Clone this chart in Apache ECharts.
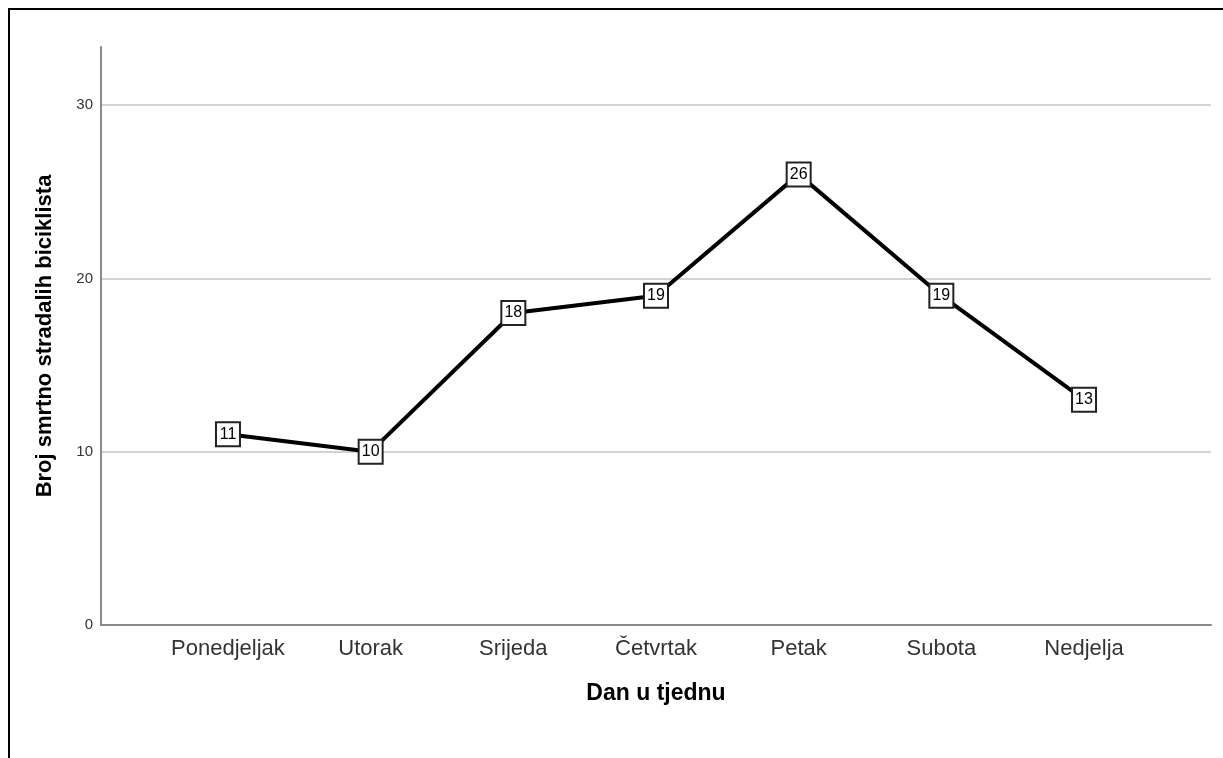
<!DOCTYPE html>
<html>
<head>
<meta charset="utf-8">
<script src="https://cdn.jsdelivr.net/npm/echarts@6/dist/echarts.min.js"></script>
<style>
html,body{margin:0;padding:0;background:#fff;}
#c{width:1223px;height:758px;}
</style>
</head>
<body>
<div id="c"></div>
<script>
const categories = ['Ponedjeljak','Utorak','Srijeda','Četvrtak','Petak','Subota','Nedjelja'];
const values = [11,10,18,19,26,19,13];
const yTicks = [0,10,20,30];
const xTitle = 'Dan u tjednu';
const yTitle = 'Broj smrtno stradalih biciklista';

const chart = echarts.init(document.getElementById('c'));
const font = '"Liberation Sans", Arial, sans-serif';
chart.setOption({
  animation:false,
  backgroundColor:'#fff',
  graphic:[{type:'rect',shape:{x:9,y:9,width:1300,height:800},style:{fill:'none',stroke:'#000',lineWidth:2},silent:true}],
  grid:{left:101,right:12,top:47,bottom:133},
  xAxis:{
    type:'value', min:-0.89, max:categories.length-1+0.89,
    axisLine:{show:true,onZero:false,lineStyle:{color:'#8a8a8a',width:2}},
    axisTick:{show:false},
    splitLine:{show:false},
    axisLabel:{customValues:categories.map((c,i)=>i),formatter:v=>categories[Math.round(v)]||'',
      fontFamily:font,fontSize:22,color:'#333',margin:13},
    name:xTitle,nameLocation:'middle',nameGap:57,
    nameTextStyle:{fontFamily:font,fontSize:23,fontWeight:'bold',color:'#000'}
  },
  yAxis:{
    type:'value',min:0,max:33.35,interval:10,
    axisLine:{show:true,onZero:false,lineStyle:{color:'#8a8a8a',width:2}},
    axisTick:{show:false},
    splitLine:{show:true,showMinLine:false,showMaxLine:false,lineStyle:{color:'#c4c4c4',width:1.5}},
    axisLabel:{customValues:yTicks,fontFamily:font,fontSize:15,color:'#333',margin:8},
    name:yTitle,nameLocation:'middle',nameGap:45,nameRotate:90,
    nameTextStyle:{fontFamily:font,fontSize:22,fontWeight:'bold',color:'#000'}
  },
  series:[{
    type:'line',
    data:values.map((v,i)=>[i,v]),
    lineStyle:{color:'#000',width:4},
    symbol:'rect',symbolSize:24,
    itemStyle:{color:'#fff',borderColor:'#222',borderWidth:2},
    label:{show:true,position:'inside',fontFamily:font,fontSize:16,color:'#000'},
    z:3
  }]
});
</script>
</body>
</html>
